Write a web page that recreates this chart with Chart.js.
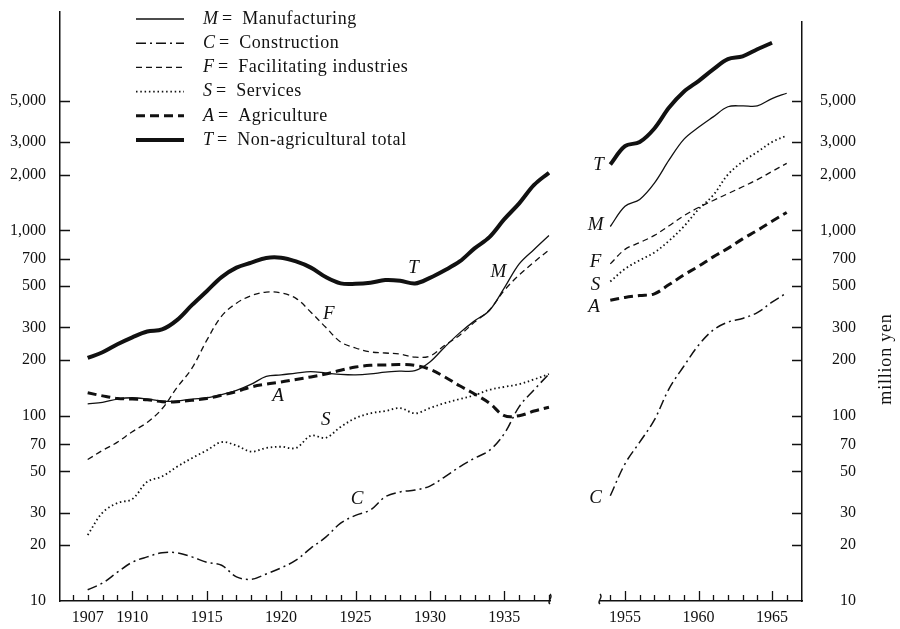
<!DOCTYPE html>
<html>
<head>
<meta charset="utf-8">
<script src="https://cdn.jsdelivr.net/npm/chart.js@4.4.1/dist/chart.umd.min.js"></script>
<style>
  html, body { margin: 0; padding: 0; background: #fff; }
  #wrap { position: relative; width: 900px; height: 629px; overflow: hidden; background: #fff; }
  #wrap canvas { position: absolute; top: 0; }
  #prewar { left: 0; }
  #postwar { left: 560px; }
</style>
</head>
<body>
<div id="wrap">
  <canvas id="prewar" width="560" height="629"></canvas>
  <canvas id="postwar" width="340" height="629"></canvas>
</div>
<script>
// ---- data (million yen, log scale) ----
const prewarYears = [1907, 1908, 1909, 1910, 1911, 1912, 1913, 1914, 1915, 1916, 1917, 1918, 1919, 1920, 1921, 1922,
                     1923, 1924, 1925, 1926, 1927, 1928, 1929, 1930, 1931, 1932, 1933, 1934, 1935, 1936, 1937, 1938];
const postwarYears = [1954, 1955, 1956, 1957, 1958, 1959, 1960, 1961, 1962, 1963, 1964, 1965, 1966];

const prewarM = [116, 118, 123, 125, 123, 120, 120, 123, 125, 130, 137, 148, 163, 166, 170, 173,
                 170, 167, 166, 168, 172, 174, 175, 195, 235, 280, 325, 370, 490, 660, 790, 940];
const prewarC = [11.5, 12.5, 14.3, 16.2, 17.3, 18.2, 18.2, 17.3, 16.2, 15.6, 13.5, 13.1, 14.0, 15.1, 16.6, 19.3,
                 22.1, 26.3, 29, 31, 36.5, 38.8, 39.7, 41.7, 46.8, 53, 59, 65, 80, 112, 138, 168];
const prewarF = [58, 65, 72, 82, 92, 109, 142, 180, 255, 345, 405, 445, 465, 460, 430, 362,
                 300, 250, 232, 221, 218, 215, 207, 210, 240, 272, 320, 372, 475, 575, 675, 785];
const prewarS = [22.7, 30, 33.8, 35.5, 44, 47, 53, 59, 65, 72, 69, 64, 67, 68, 67, 78,
                 76, 87, 97, 103, 106, 110, 103, 110, 117, 123, 129, 138, 143, 148, 157, 168];
const prewarA = [133, 128, 124, 123, 122, 119, 119, 121, 124, 129, 135, 143, 148, 152, 157, 162,
                 168, 176, 183, 187, 188, 189, 187, 178, 162, 145, 131, 117, 100, 100, 106, 111];
const prewarT = [205, 220, 243, 265, 285, 292, 328, 395, 470, 560, 630, 670, 710, 712, 680, 630,
                 560, 518, 515, 522, 540, 535, 517, 555, 610, 680, 800, 920, 1150, 1400, 1760, 2050];

const postwarM = [1050, 1350, 1470, 1800, 2400, 3100, 3600, 4100, 4650, 4700, 4700, 5150, 5500];
const postwarC = [37, 55, 72, 95, 140, 185, 240, 290, 320, 335, 360, 410, 460];
const postwarF = [660, 790, 860, 940, 1060, 1200, 1330, 1450, 1580, 1720, 1880, 2080, 2300];
const postwarS = [530, 620, 690, 760, 880, 1050, 1300, 1550, 2000, 2350, 2650, 3000, 3250];
const postwarA = [420, 435, 445, 455, 510, 575, 640, 720, 800, 900, 1000, 1120, 1250];
const postwarT = [2270, 2850, 3000, 3550, 4600, 5600, 6400, 7400, 8400, 8700, 9500, 10300, null];

const seriesKeys = ['M', 'C', 'F', 'S', 'A', 'T'];
const seriesNames = ['Manufacturing', 'Construction', 'Facilitating industries', 'Services', 'Agriculture', 'Non-agricultural total'];

const yTickValues = [10, 20, 30, 50, 70, 100, 200, 300, 500, 700, 1000, 2000, 3000, 5000];
const prewarLabelYears = [1907, 1910, 1915, 1920, 1925, 1930, 1935];
const postwarLabelYears = [1955, 1960, 1965];

// letters written beside the curves: [letter, year, value]
const prewarTags = [['T', 1928.9, 627], ['F', 1923.2, 354], ['A', 1919.8, 128], ['S', 1923.0, 95], ['C', 1925.1, 35.5], ['M', 1934.6, 597]];
const postwarTags = [['T', 1953.2, 2250], ['M', 1953.0, 1070], ['F', 1953.0, 675], ['S', 1953.0, 505], ['A', 1952.9, 385], ['C', 1953.0, 36]];

// ---- styles ----
const ink = '#111';
const serif = "'Liberation Serif', 'Times New Roman', serif";
const lineWidths = { M: 1.3, C: 1.5, F: 1.3, S: 1.8, A: 3, T: 4 };
const lineDashes = { M: [], C: [10, 4, 2, 4], F: [6, 4], S: [1.5, 2.8], A: [9, 5], T: [] };

function buildDatasets(years, table) {
  return seriesKeys.map(k => ({
    label: k,
    data: years.map((yr, i) => ({ x: yr, y: table[k][i] })),
    borderColor: ink,
    borderWidth: lineWidths[k],
    borderDash: lineDashes[k],
    pointRadius: 0,
    tension: 0.35,
    fill: false
  }));
}

function yScale(side) {
  return {
    type: 'logarithmic',
    position: side,
    min: 10,
    max: side === 'left' ? 15100 : 13330,
    grid: { display: false, drawTicks: false },
    border: { display: true, color: ink, width: 1.5 },
    afterBuildTicks: s => { s.ticks = yTickValues.map(v => ({ value: v })); },
    afterFit: s => {
      s.width = side === 'left' ? 60 : 54;
      s.paddingTop = 0;
      s.paddingBottom = 0;
    },
    ticks: {
      color: ink, font: { family: serif, size: 16 }, padding: 14, autoSkip: false,
      crossAlign: side === 'left' ? 'near' : 'far',
      callback: v => v.toLocaleString('en-US')
    }
  };
}

function xScale(min, max, labelYears) {
  return {
    type: 'linear',
    min: min,
    max: max,
    grid: { display: false, drawTicks: false },
    border: { display: true, color: ink, width: 1.5 },
    afterBuildTicks: s => { s.ticks = labelYears.map(v => ({ value: v })); },
    afterFit: s => { s.height = 28; },
    ticks: { color: ink, font: { family: serif, size: 16 }, padding: 7, maxRotation: 0, autoSkip: false, callback: v => String(v) }
  };
}

// inward tick marks on both axes, plus the axis-break squiggle
const axisMarks = {
  id: 'axisMarks',
  afterDraw(chart, args, opts) {
    const { ctx, chartArea, scales: { x, y } } = chart;
    const axisX = opts.side === 'left' ? chartArea.left : chartArea.right;
    const dir = opts.side === 'left' ? 1 : -1;
    ctx.save();
    ctx.strokeStyle = ink;
    ctx.lineWidth = 1.3;
    ctx.beginPath();
    yTickValues.forEach(v => {
      if (v <= y.min) return;
      const py = Math.round(y.getPixelForValue(v)) + 0.5;
      ctx.moveTo(axisX, py);
      ctx.lineTo(axisX + dir * 10, py);
    });
    for (let yr = Math.ceil(x.min); yr <= Math.min(Math.floor(x.max), opts.lastYear); yr++) {
      const px = Math.round(x.getPixelForValue(yr)) + 0.5;
      const len = yr % 5 === 0 ? 10 : 6;
      ctx.moveTo(px, chartArea.bottom);
      ctx.lineTo(px, chartArea.bottom - len);
    }
    ctx.stroke();
    // break mark
    const bx = opts.side === 'left' ? chartArea.right : chartArea.left;
    const b = chartArea.bottom;
    ctx.lineWidth = 1.4;
    ctx.beginPath();
    ctx.moveTo(bx, b + 3);
    ctx.bezierCurveTo(bx - 4, b, bx + 4, b - 3, bx, b - 7);
    ctx.stroke();
    ctx.restore();
  }
};

const curveTags = {
  id: 'curveTags',
  afterDatasetsDraw(chart, args, opts) {
    const { ctx, scales: { x, y } } = chart;
    ctx.save();
    ctx.fillStyle = ink;
    ctx.font = 'italic 19px ' + serif;
    ctx.textAlign = 'center';
    ctx.textBaseline = 'middle';
    opts.tags.forEach(([t, yr, v]) => ctx.fillText(t, x.getPixelForValue(yr), y.getPixelForValue(v)));
    ctx.restore();
  }
};

const keyBox = {
  id: 'keyBox',
  afterDraw(chart, args, opts) {
    if (!opts.show) return;
    const ctx = chart.ctx;
    ctx.save();
    ctx.fillStyle = ink;
    ctx.strokeStyle = ink;
    ctx.textBaseline = 'middle';
    chart.data.datasets.forEach((ds, i) => {
      const rowY = 19 + i * 24.2;
      ctx.lineWidth = ds.borderWidth;
      ctx.setLineDash(ds.borderDash);
      ctx.beginPath();
      ctx.moveTo(136, rowY);
      ctx.lineTo(184, rowY);
      ctx.stroke();
      ctx.setLineDash([]);
      ctx.letterSpacing = '0px';
      ctx.font = 'italic 18px ' + serif;
      ctx.fillText(ds.label, 203, rowY);
      let tx = 203 + ctx.measureText(ds.label).width + 4;
      ctx.font = '18px ' + serif;
      ctx.fillText('=', tx, rowY);
      tx += ctx.measureText('=').width + 10;
      ctx.letterSpacing = '0.6px';
      ctx.fillText(seriesNames[i], tx, rowY);
    });
    ctx.restore();
  }
};

const unitTitle = {
  id: 'unitTitle',
  afterDraw(chart, args, opts) {
    if (!opts.text) return;
    const ctx = chart.ctx;
    ctx.save();
    ctx.translate(opts.x, opts.y);
    ctx.rotate(-Math.PI / 2);
    ctx.fillStyle = ink;
    ctx.font = '18px ' + serif;
    ctx.letterSpacing = '0.8px';
    ctx.textAlign = 'center';
    ctx.textBaseline = 'middle';
    ctx.fillText(opts.text, 0, 0);
    ctx.restore();
  }
};

const prewarChart = new Chart(document.getElementById('prewar'), {
  type: 'line',
  data: {
    datasets: buildDatasets(prewarYears, { M: prewarM, C: prewarC, F: prewarF, S: prewarS, A: prewarA, T: prewarT })
  },
  options: {
    responsive: false,
    animation: false,
    layout: { padding: { left: 0, right: 10, top: 12, bottom: 0 } },
    plugins: {
      legend: { display: false },
      tooltip: { enabled: false },
      axisMarks: { side: 'left', lastYear: 1938 },
      curveTags: { tags: prewarTags },
      keyBox: { show: true },
      unitTitle: {}
    },
    scales: {
      x: xScale(1905.14, 1938.07, prewarLabelYears),
      y: yScale('left')
    }
  },
  plugins: [axisMarks, curveTags, keyBox, unitTitle]
});

const postwarChart = new Chart(document.getElementById('postwar'), {
  type: 'line',
  data: {
    datasets: buildDatasets(postwarYears, { M: postwarM, C: postwarC, F: postwarF, S: postwarS, A: postwarA, T: postwarT })
  },
  options: {
    responsive: false,
    animation: false,
    layout: { padding: { left: 40, right: 44, top: 22, bottom: 0 } },
    plugins: {
      legend: { display: false },
      tooltip: { enabled: false },
      axisMarks: { side: 'right', lastYear: 1966 },
      curveTags: { tags: postwarTags },
      keyBox: { show: false },
      unitTitle: { text: 'million yen', x: 326, y: 359 }
    },
    scales: {
      x: xScale(1953.3, 1967.04, postwarLabelYears),
      y: yScale('right')
    }
  },
  plugins: [axisMarks, curveTags, keyBox, unitTitle]
});
</script>
</body>
</html>
